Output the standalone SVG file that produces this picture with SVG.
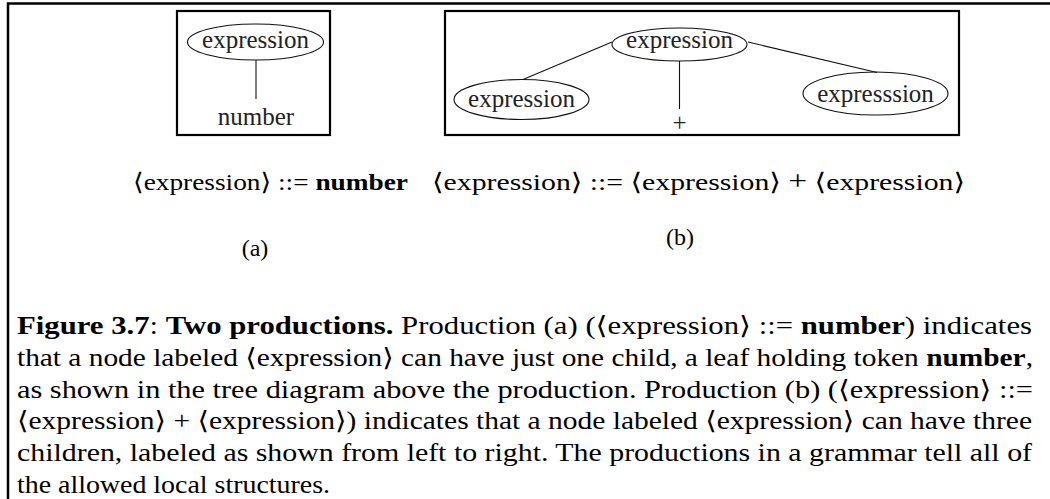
<svg xmlns="http://www.w3.org/2000/svg" width="1050" height="499" viewBox="0 0 1050 499">
<style>
.frame{fill:none;stroke:#000;stroke-width:2.5}
.box{fill:none;stroke:#000;stroke-width:2.2}
.node{fill:none;stroke:#111;stroke-width:1.1}
.edge{stroke:#111;stroke-width:1.1;fill:none}
.t{font-family:"Liberation Serif","Times New Roman",serif;font-size:25px;fill:#222;text-anchor:middle}
.p{font-family:"Liberation Serif","Times New Roman","DejaVu Serif",serif;font-size:24px;fill:#000}
.c{font-family:"Liberation Serif","Times New Roman","DejaVu Serif",serif;font-size:25px;fill:#000}
.b{font-weight:bold}
</style>
<rect width="1050" height="499" fill="#fff"/>
<path class="frame" d="M8,499 V3.5 H1050"/>
<g id="treeA">
<rect class="box" x="177" y="11" width="153" height="124"/>
<g id="a_root"><ellipse class="node" cx="255.5" cy="42" rx="68" ry="18"/><text class="t" x="255.5" y="48">expression</text></g>
<g id="a_leaf"><text class="t" x="256" y="125">number</text></g>
</g>
<g id="treeB">
<rect class="box" x="445" y="11" width="514" height="124"/>
<g id="b_root"><ellipse class="node" cx="679.5" cy="44.5" rx="67.5" ry="16.5"/><text class="t" x="679.5" y="48">expression</text></g>
<g id="b_left"><ellipse class="node" cx="521.5" cy="99.5" rx="67.5" ry="20"/><text class="t" x="521.5" y="107">expression</text></g>
<g id="b_plus"><text class="t" x="679.5" y="131">+</text></g>
<g id="b_right"><ellipse class="node" cx="875.5" cy="93.5" rx="72.5" ry="21.5"/><text class="t" x="875.5" y="102">expresssion</text></g>
</g>
<g id="connectors">
<line class="edge" x1="256" y1="60" x2="256" y2="99"/>
<line class="edge" x1="612" y1="42" x2="523" y2="79.5"/>
<line class="edge" x1="748" y1="42" x2="877" y2="72.5"/>
<line class="edge" x1="679.5" y1="61" x2="679.5" y2="109"/>
</g>
<g id="productions">
<text class="p" x="133" y="190" textLength="275" lengthAdjust="spacingAndGlyphs">⟨expression⟩ ::= <tspan class="b">number</tspan></text>
<text class="p" x="432" y="190" textLength="533" lengthAdjust="spacingAndGlyphs">⟨expression⟩ ::= ⟨expression⟩ <tspan font-size="27">+</tspan> ⟨expression⟩</text>
<text class="p" x="255" y="256" text-anchor="middle">(a)</text>
<text class="p" x="680" y="245" text-anchor="middle">(b)</text>
</g>
<g id="caption">
<text class="c" x="17" y="334" textLength="1015" lengthAdjust="spacingAndGlyphs"><tspan class="b">Figure 3.7</tspan>: <tspan class="b">Two productions.</tspan> Production (a) (⟨expression⟩ ::= <tspan class="b">number</tspan>) indicates</text>
<text class="c" x="17" y="365.8" textLength="1016" lengthAdjust="spacingAndGlyphs">that a node labeled ⟨expression⟩ can have just one child, a leaf holding token <tspan class="b">number</tspan>,</text>
<text class="c" x="17" y="397.6" textLength="1016" lengthAdjust="spacingAndGlyphs">as shown in the tree diagram above the production.  Production (b) (⟨expression⟩ ::=</text>
<text class="c" x="17" y="429.4" textLength="1015" lengthAdjust="spacingAndGlyphs">⟨expression⟩ + ⟨expression⟩) indicates that a node labeled ⟨expression⟩ can have three</text>
<text class="c" x="17" y="461.2" textLength="1015" lengthAdjust="spacingAndGlyphs">children, labeled as shown from left to right.  The productions in a grammar tell all of</text>
<text class="c" x="17" y="493" textLength="313" lengthAdjust="spacingAndGlyphs">the allowed local structures.</text>
</g>
</svg>
